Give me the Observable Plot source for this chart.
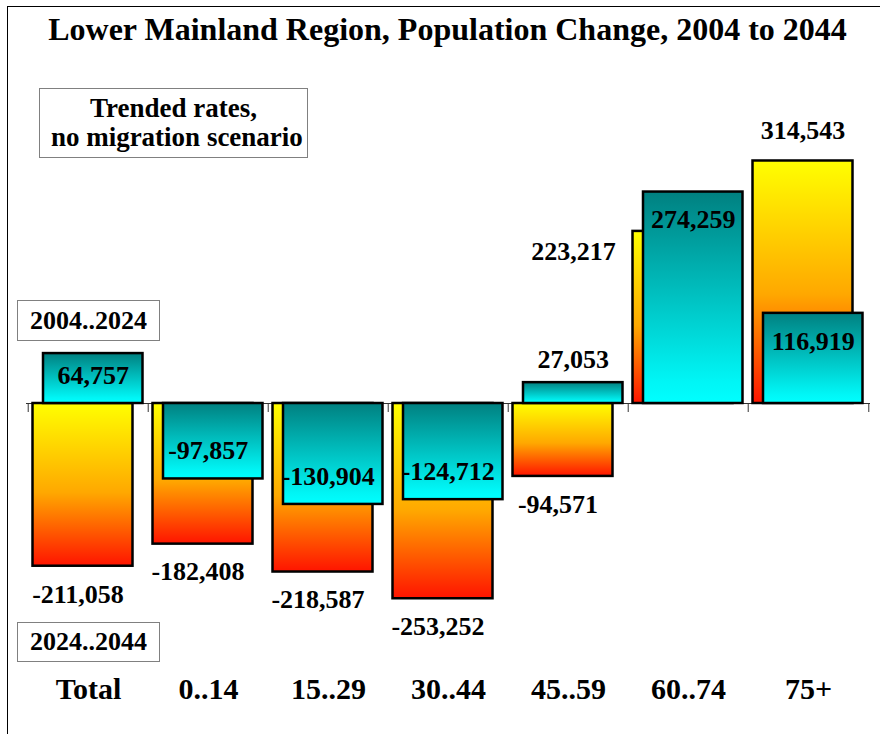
<!DOCTYPE html>
<html>
<head>
<meta charset="utf-8">
<script src="https://cdn.jsdelivr.net/npm/d3@7"></script>
<script src="https://cdn.jsdelivr.net/npm/@observablehq/plot@0.6"></script>
<style>
  html, body { margin: 0; padding: 0; background: #fff; }
  #wrap { position: relative; width: 880px; height: 734px; overflow: hidden; background: #fff;
          font-family: "Liberation Serif", "Times New Roman", serif; font-weight: bold; color: #000; }
  #frame { position: absolute; left: 7px; top: 6px; width: 1000px; height: 1000px;
           border-left: 1.5px solid #000; border-top: 1.5px solid #000; }
  #chart { position: absolute; left: 0; top: 0; }
  #title { position: absolute; left: 7.5px; top: 13px; width: 880px; text-align: center;
           font-size: 32px; line-height: 1; white-space: nowrap; }
  .box { position: absolute; background: #fff; border: 1.5px solid #808080; box-sizing: border-box;
         display: flex; flex-direction: column; align-items: center; justify-content: center;
         white-space: pre; }
  #note { left: 39px; top: 88px; width: 269px; height: 70px; font-size: 27px; line-height: 29px; }
  #leg1 { left: 17px; top: 300px; width: 143px; height: 41px; font-size: 26px; }
  #leg2 { left: 17px; top: 622px; width: 143px; height: 40px; font-size: 26px; }
</style>
</head>
<body>
<div id="wrap">
  <div id="frame"></div>
  <div id="chart"></div>
  <div id="title">Lower Mainland Region, Population Change, 2004 to 2044</div>
  <div class="box" id="note"><div>Trended rates,</div><div> no migration scenario</div></div>
  <div class="box" id="leg1">2004..2024</div>
  <div class="box" id="leg2">2024..2044</div>
</div>
<script>
// ---- data ----
const categories = ["Total", "0..14", "15..29", "30..44", "45..59", "60..74", "75+"];
const change2004_2024 = [64757, -97857, -130904, -124712, 27053, 274259, 116919];
const change2024_2044 = [-211058, -182408, -218587, -253252, -94571, 223217, 314543];

// ---- derived table ----
const rows = categories.map((cat, i) => ({cat, a: change2004_2024[i], b: change2024_2044[i]}));

const fmt = d3.formatLocale({decimal: ".", thousands: ",", grouping: [3], currency: ["", ""], minus: "-"}).format(",");

// layout
const W = 880, H = 734;
const mL = 26, mR = 10;
const yDomain = [-400000, 400000];
const yRange = [711.4, 94.6];
const k = (yRange[0] - yRange[1]) / (yDomain[1] - yDomain[0]); // px per unit
const bw = (W - mL - mR) / categories.length;

// bar insets inside each band
const yIns = {l: 4.5, r: 15.5};
const tIns = {l: 15, r: 5.5};
const yCenterDx = (yIns.l + (bw - yIns.r)) / 2 - bw / 2;
const tCenterDx = (tIns.l + (bw - tIns.r)) / 2 - bw / 2;
const negShift = -5;

function tealLabelY(d) {
  const h = Math.abs(d.a) * k, s = Math.sign(d.a);
  if (h < 40) return d.a + s * 23 / k;
  const off = Math.min(28, h / 2 - 3);
  return d.a - s * off / k;
}

const textOpts = {fontSize: 26, fontWeight: "bold", fontFamily: "Liberation Serif", fill: "#000"};

const chart = Plot.plot({
  width: W, height: H,
  marginLeft: mL, marginRight: mR, marginTop: 0, marginBottom: 60,
  x: {domain: categories, padding: 0, axis: null},
  y: {domain: yDomain, range: yRange, axis: null},
  style: {fontFamily: "Liberation Serif", background: "transparent", overflow: "visible"},
  marks: [
    Plot.ruleY([0], {stroke: "#333", strokeWidth: 1}),
    Plot.ruleX(categories, {x: d => d, y1: 0, y2: -9 / k, dx: -bw / 2, stroke: "#333", strokeWidth: 1}),
    Plot.ruleX(categories.slice(-1), {x: d => d, y1: 0, y2: -9 / k, dx: bw / 2, stroke: "#333", strokeWidth: 1}),
    // 2024..2044 (back, warm gradient)
    Plot.barY(rows, {x: "cat", y: "b", fill: "url(#gWarm)", stroke: "#000", strokeWidth: 2.5,
      insetLeft: yIns.l, insetRight: yIns.r}),
    // 2004..2024 (front, teal gradient)
    Plot.barY(rows, {x: "cat", y: "a", fill: "url(#gTeal)", stroke: "#000", strokeWidth: 2.5,
      insetLeft: tIns.l, insetRight: tIns.r}),
    // labels for 2024..2044
    Plot.text(rows.filter(d => d.b < 0), {x: "cat", y: "b", text: d => fmt(d.b), dy: 28, dx: yCenterDx + negShift, ...textOpts}),
    Plot.text(rows.filter(d => d.b > 0 && d.a < d.b), {x: "cat", y: "b", text: d => fmt(d.b), dy: -30, dx: yCenterDx, ...textOpts}),
    Plot.text(rows.filter(d => d.b > 0 && d.a >= d.b), {x: "cat", y: "b", text: d => fmt(d.b), dy: 20,
      dx: yIns.l - bw / 2 - 17, textAnchor: "end", ...textOpts}),
    // labels for 2004..2024
    Plot.text(rows.filter(d => d.a < 0), {x: "cat", y: tealLabelY, text: d => fmt(d.a), dx: tCenterDx + negShift, ...textOpts}),
    Plot.text(rows.filter(d => d.a >= 0), {x: "cat", y: tealLabelY, text: d => fmt(d.a), dx: tCenterDx, ...textOpts}),
    Plot.axisX({anchor: "bottom", tickSize: 0, tickPadding: 3, fontSize: 30, fontWeight: "bold",
      fontFamily: "Liberation Serif", fill: "#000", label: null})
  ]
});

// gradients
const defs = d3.select(chart).insert("defs", ":first-child");
const gw = defs.append("linearGradient").attr("id", "gWarm").attr("x1", 0).attr("y1", 0).attr("x2", 0).attr("y2", 1);
[[0, "#ffff00"], [0.55, "#ffa800"], [1, "#ff1400"]].forEach(([o, c]) => gw.append("stop").attr("offset", o).attr("stop-color", c));
const gt = defs.append("linearGradient").attr("id", "gTeal").attr("x1", 0).attr("y1", 0).attr("x2", 0).attr("y2", 1);
[[0, "#008080"], [0.9, "#00f6f6"], [1, "#00ffff"]].forEach(([o, c]) => gt.append("stop").attr("offset", o).attr("stop-color", c));

document.getElementById("chart").appendChild(chart);
</script>
</body>
</html>
